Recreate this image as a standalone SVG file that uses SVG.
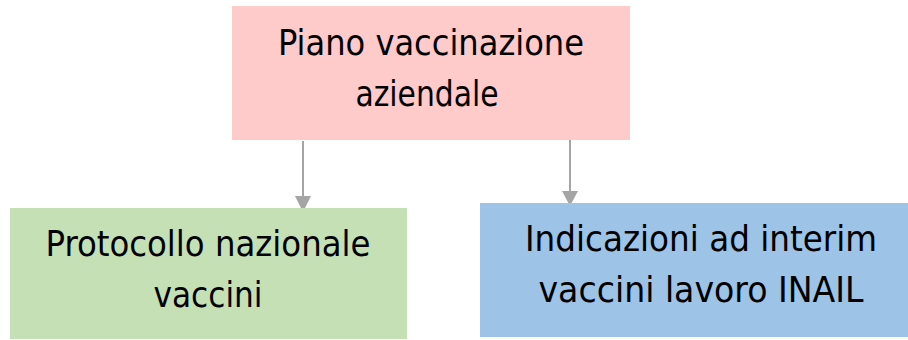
<svg xmlns="http://www.w3.org/2000/svg" width="908" height="340" viewBox="0 0 908 340">
<style>
.t{font-family:"DejaVu Sans Condensed","DejaVu Sans",sans-serif;font-size:36px;fill:#000;text-anchor:middle}
.c{stroke:#A5A5A5;stroke-width:2;fill:none}
.h{fill:#A5A5A5}
</style>
<rect width="908" height="340" fill="#fff"/>
<g id="connectors">
<line class="c" x1="303" y1="141" x2="303" y2="198"/>
<polygon class="h" points="295,196 311,196 303,212"/>
<line class="c" x1="570" y1="137" x2="570" y2="193"/>
<polygon class="h" points="562,191 578,191 570,206"/>
</g>
<g id="piano">
<rect x="232" y="6" width="398" height="134" fill="#FFCACA"/>
<text class="t" x="431" y="55" textLength="306" lengthAdjust="spacingAndGlyphs">Piano vaccinazione</text>
<text class="t" x="427" y="106" textLength="143" lengthAdjust="spacingAndGlyphs">aziendale</text>
</g>
<g id="protocollo">
<rect x="10" y="208" width="397" height="131" fill="#C5E0B4"/>
<text class="t" x="208" y="256" textLength="325" lengthAdjust="spacingAndGlyphs">Protocollo nazionale</text>
<text class="t" x="208" y="307" textLength="109" lengthAdjust="spacingAndGlyphs">vaccini</text>
</g>
<g id="indicazioni">
<rect x="480" y="203" width="428" height="134" fill="#9DC3E6"/>
<text class="t" x="701" y="251" textLength="352" lengthAdjust="spacingAndGlyphs">Indicazioni ad interim</text>
<text class="t" x="701" y="302" textLength="325" lengthAdjust="spacingAndGlyphs">vaccini lavoro INAIL</text>
</g>
</svg>
